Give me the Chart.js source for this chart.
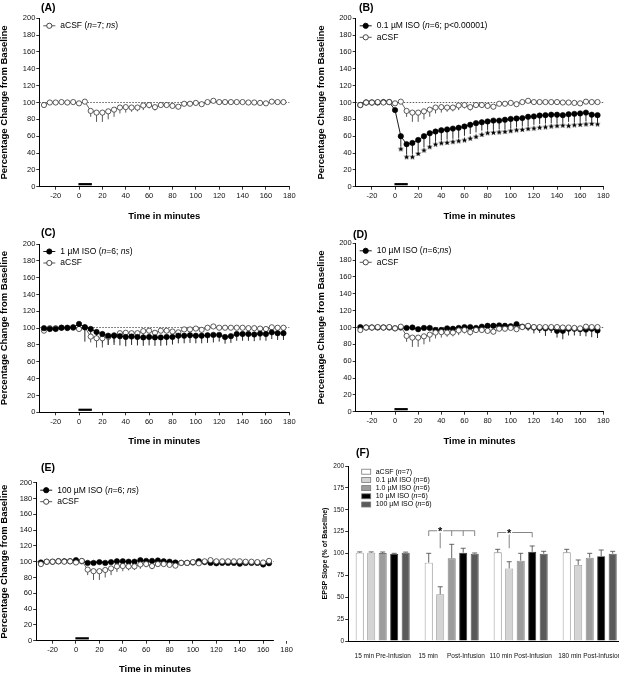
<!DOCTYPE html>
<html>
<head>
<meta charset="utf-8">
<script src="https://cdn.jsdelivr.net/npm/chart.js@4.4.1/dist/chart.umd.min.js"></script>
<style>
  html, body { margin: 0; padding: 0; background: #fff; overflow: hidden; width: 619px; height: 673px; }
  canvas { position: absolute; }
</style>
</head>
<body>
<canvas id="cA" width="310" height="225" style="left:0;top:0"></canvas>
<canvas id="cB" width="309" height="225" style="left:310px;top:0"></canvas>
<canvas id="cC" width="310" height="225" style="left:0;top:225px"></canvas>
<canvas id="cD" width="309" height="225" style="left:310px;top:225px"></canvas>
<canvas id="cE" width="310" height="236" style="left:0;top:440px"></canvas>
<canvas id="cF" width="320" height="233" style="left:310px;top:440px"></canvas>
<script>
// sampling times (min) for panels A-D; panel E stops at 165
const times = [-30,-25,-20,-15,-10,-5,0,5,10,15,20,25,30,35,40,45,50,55,60,65,70,75,80,85,90,95,100,105,110,115,120,125,130,135,140,145,150,155,160,165,170,175];
const xTicks = [-20,0,20,40,60,80,100,120,140,160,180];
const yTicks = [0,20,40,60,80,100,120,140,160,180,200];

// aCSF control, mean and SEM
const acsf = [97,100,100,100.5,100,100.5,99,101,90,88,88,89.5,91.5,94,94.5,94,94,96.5,97,94.5,97,97,96,95,98.5,98.5,99.5,98,100.5,102,100.5,100.5,100.5,100.5,100.5,100,100,99.5,99,101,100.5,100.5];
const acsfErr = [1.5,1,1,1,1,1,1.5,2,7,11,11,9.5,8.5,7,6.5,5,4.5,5.5,4,4,3,3,3,3,2,2,2,2,2,2,1.5,1.5,1.5,1.5,1.5,1.5,1.5,1.5,1.5,1.5,1.5,1.5];

// 0.1 uM ISO
const iso01 = [97,100,100,100,100.5,100.5,91,60,50.5,52,55.5,60,63.5,65.5,67,68,69,70,71.5,73.5,75.5,76.5,77.5,78.5,78.5,79.5,80.5,81,81.5,83,83.5,84.5,85,85.5,85.5,85,86,86.5,87,88,85.5,85];
const iso01Err = [1,1,1,1,1,1,2,12,12,13,13,13,13,12,12,12,12,12,11,11,11,10,10,11,10,11,11,10,10,11,10,10,10,10,10,9,9,10,10,10,8,8];
const iso01Stars = [null,null,null,null,null,null,null,45,35.5,35.5,39.5,43.5,47.5,50.5,52,52.5,53.5,54.5,55.5,57.5,59.5,62,64,64.5,65,65.5,66.5,67.5,68,69,69.5,70.5,71,72,72.5,73,72.5,73.5,74,74.5,75,74.5];

// 1 uM ISO
const iso1 = [100,99,99,100.5,100.5,101,105,101,99,95.5,93,91,91,90.5,89.5,90,89.5,89,89.5,89,89,89.5,89.5,91,91,91.5,91,91,91.5,92,92,89.5,90.5,93,93,93,92.5,93.5,93,95,94,94];
const iso1Err = [1,1,1,1,1,1,2,17,10,11,11,11,11,11,11,10,10,10,10,10,10,10,9,9,9,9,9,9,9,9,8,8,8,8,8,8,8,8,8,8,8,8];

// 10 uM ISO
const iso10 = [100.5,100,100,100,100,100,99,100,99.5,100,98,99.5,99.5,97,97,99,98.5,99.5,100.5,100.5,99.5,101,102,102,102.5,102,101.5,104,101,101,100,99.5,99,99.5,96,96,98.5,98.5,98,97.5,98.5,96.5];
const iso10Err = [1,1,1,1,1,1,1.5,1.5,2,2,2,2,2,2,2,2,2,2,2,2,2,2,2,2,2,2,2,2,4,5,7,6,9,6,8,10,8,8,8,8,10,9];

// 100 uM ISO (to 165 min)
const iso100 = [99,100,100,100.5,100.5,100.5,102,100.5,98.5,98.5,99.5,98.5,99.5,100.5,100.5,100,100,102,101,101,101.5,100.5,100,99,98.5,98.5,99,100.5,99.5,98.5,98,98.5,98.5,98.5,97.5,98.5,98.5,98.5,96.5,98];
const iso100Err = [1,1,1,1,1,1,1.5,1.5,1.5,1.5,1.5,1.5,1.5,1.5,1.5,1.5,1.5,1.5,1.5,1.5,1.5,1.5,1.5,1.5,1.5,1.5,1.5,1.5,1.5,1.5,1.5,1.5,1.5,1.5,1.5,1.5,1.5,1.5,2,1.5];

// panel F summary
const epochs = ['15 min Pre-Infusion', '15 min     Post-Infusion', '110 min Post-Infusion', '180 min Post-Infusion'];
const fTicks = [0,25,50,75,100,125,150,175,200];
const barAcsf = [101, 89.5, 101.3, 101.3];
const barAcsfErr = [0.8, 10.7, 3.5, 3.5];
const bar01 = [101, 53.3, 83, 87];
const bar01Err = [0.8, 8.7, 7.6, 5.6];
const bar1 = [100.5, 94.5, 91.8, 95.2];
const bar1Err = [1.2, 16, 8.4, 5];
const bar10 = [99.5, 101, 102, 97];
const bar10Err = [0.7, 5, 6.6, 7];
const bar100 = [101, 99.8, 99.8, 99.8];
const bar100Err = [0.6, 0.8, 2.7, 2.7];

const FONT = '"Liberation Sans", Arial, sans-serif';
const baseline = 101;
const infusion = [-0.5, 11];

function pts(xs, ys) { return ys.map((v, i) => ({ x: xs[i], y: v })); }

function drawParts(ctx, parts, x, y, size) {
  parts.forEach(p => {
    ctx.font = (p[1] ? 'italic ' : '') + size + 'px ' + FONT;
    ctx.fillText(p[0], x, y);
    x += ctx.measureText(p[0]).width;
  });
}

const star = document.createElement('canvas');
star.width = 7; star.height = 7;
(function () {
  const c = star.getContext('2d');
  c.beginPath();
  for (let k = 0; k < 10; k++) {
    const r = k % 2 ? 1.3 : 3.2, a = -Math.PI / 2 + k * Math.PI / 5;
    c.lineTo(3.5 + r * Math.cos(a), 3.7 + r * Math.sin(a));
  }
  c.closePath(); c.fillStyle = '#000'; c.fill();
})();

const deco = {
  id: 'deco',
  afterDraw(chart, args, o) {
    const ctx = chart.ctx, a = chart.chartArea;
    ctx.save();
    ctx.fillStyle = '#000';
    ctx.textBaseline = 'middle';
    ctx.textAlign = 'left';
    ctx.font = 'bold 10.5px ' + FONT;
    ctx.fillText(o.tag, o.tagX, o.tagY);
    o.keys.forEach((k, i) => {
      const y = a.top + o.keyTop + i * o.keyGap;
      const x = a.left + o.keyLeft;
      if (k.box) {
        ctx.fillStyle = k.box;
        ctx.fillRect(x, y - 2.5, 9, 5);
        ctx.strokeStyle = '#777'; ctx.lineWidth = 0.8;
        ctx.strokeRect(x, y - 2.5, 9, 5);
        ctx.fillStyle = '#000';
        drawParts(ctx, k.parts, x + 14, y, o.keySize);
      } else {
        ctx.strokeStyle = k.filled ? '#000' : '#444'; ctx.lineWidth = 0.9;
        ctx.beginPath(); ctx.moveTo(x, y); ctx.lineTo(x + 12, y); ctx.stroke();
        ctx.beginPath(); ctx.arc(x + 6, y, 2.6, 0, Math.PI * 2);
        ctx.fillStyle = k.filled ? '#000' : '#fff'; ctx.fill();
        ctx.strokeStyle = k.filled ? '#000' : '#333'; ctx.stroke();
        ctx.fillStyle = '#000';
        drawParts(ctx, k.parts, x + 17, y, o.keySize);
      }
    });
    ctx.restore();
  }
};

const refs = {
  id: 'refs',
  beforeDatasetsDraw(chart) {
    const { ctx, chartArea: a, scales: { x, y } } = chart;
    ctx.save();
    ctx.strokeStyle = '#333'; ctx.lineWidth = 0.8; ctx.setLineDash([1.5, 1.5]);
    const yb = Math.round(y.getPixelForValue(baseline)) + 0.5;
    ctx.beginPath(); ctx.moveTo(a.left, yb); ctx.lineTo(a.right, yb); ctx.stroke();
    ctx.setLineDash([]);
    ctx.strokeStyle = '#000'; ctx.lineWidth = 2.2;
    const yi = y.getPixelForValue(3);
    ctx.beginPath(); ctx.moveTo(x.getPixelForValue(infusion[0]), yi); ctx.lineTo(x.getPixelForValue(infusion[1]), yi); ctx.stroke();
    chart.data.datasets.forEach((ds, di) => {
      if (!ds.err) return;
      const meta = chart.getDatasetMeta(di);
      ctx.strokeStyle = ds.errColor; ctx.lineWidth = 0.9;
      meta.data.forEach((pt, i) => {
        const y2 = y.getPixelForValue(ds.data[i].y - ds.err[i]);
        ctx.beginPath(); ctx.moveTo(pt.x, pt.y); ctx.lineTo(pt.x, y2); ctx.stroke();
      });
    });
    ctx.restore();
  }
};

function isoSet(label, vals, err) {
  return { label, data: pts(times, vals), err, errColor: '#111', borderColor: '#000', borderWidth: 0.9,
    pointRadius: 2.7, pointBackgroundColor: '#000', pointBorderColor: '#000', pointBorderWidth: 0.6 };
}
function acsfSet(n, order) {
  return { label: 'aCSF', data: pts(times, acsf.slice(0, n)), err: acsfErr.slice(0, n), errColor: '#444',
    borderColor: '#555', borderWidth: 0.9, pointRadius: 2.6, pointBackgroundColor: '#fff',
    pointBorderColor: '#333', pointBorderWidth: 0.8, order: order || 0 };
}

function lineChart(id, p) {
  return new Chart(document.getElementById(id), {
    type: 'line',
    data: { datasets: p.datasets },
    options: {
      responsive: false, animation: false,
      layout: { padding: { left: p.padL, top: p.top, right: p.padR, bottom: 0 } },
      plugins: {
        legend: { display: false }, tooltip: { enabled: false },
        deco: { tag: p.tag, tagX: p.tagX, tagY: p.tagY, keys: p.keys, keyTop: 7.5, keyGap: 11.5, keyLeft: 4, keySize: 8.5 }
      },
      scales: {
        x: {
          type: 'linear', min: -34, max: p.xmax,
          afterBuildTicks: s => { s.ticks = p.xt.map(v => ({ value: v })); },
          afterFit: s => { s.height = p.xh; },
          grid: { drawOnChartArea: false, tickLength: 3, color: '#000', lineWidth: 0.8 },
          border: { color: '#000', width: 1 },
          ticks: { font: { family: FONT, size: 7.5 }, color: '#111', padding: 2, maxRotation: 0, autoSkip: false },
          title: { display: true, text: 'Time in minutes', color: '#000', font: { family: FONT, size: 9.5, weight: 'bold', lineHeight: 1.2 }, padding: { top: 0, bottom: p.tpad } }
        },
        y: {
          min: 0, max: 200,
          afterBuildTicks: s => { s.ticks = yTicks.map(v => ({ value: v })); },
          afterFit: s => { s.width = p.yw; },
          grid: { drawOnChartArea: false, tickLength: 3, color: '#000', lineWidth: 0.8 },
          border: { color: '#000', width: 1 },
          ticks: { font: { family: FONT, size: 7.5 }, color: '#111', padding: 1 },
          title: { display: true, text: 'Percentage Change from Baseline', color: '#000', font: { family: FONT, size: 9.5, weight: 'bold', lineHeight: 1 }, padding: 0 }
        }
      }
    },
    plugins: [refs, deco]
  });
}

const acsfKey = { filled: false, parts: [['aCSF', 0]] };

lineChart('cA', {
  datasets: [acsfSet(42)], tag: '(A)', tagX: 41, tagY: 8,
  keys: [{ filled: false, parts: [['aCSF (', 0], ['n', 1], ['=7; ', 0], ['ns', 1], [')', 0]] }],
  padL: 0, yw: 39.3, padR: 20.7, top: 18.3, xh: 38.3, xmax: 180, xt: xTicks, tpad: 3.3
});

const starSet = { label: 'p', data: pts(times, iso01Stars), showLine: false, pointStyle: star, pointRadius: 3 };
lineChart('cB', {
  datasets: [isoSet('0.1', iso01, iso01Err), acsfSet(42, -1), starSet], tag: '(B)', tagX: 49, tagY: 8,
  keys: [{ filled: true, parts: [['0.1 µM ISO (', 0], ['n', 1], ['=6; p<0.00001)', 0]] }, acsfKey],
  padL: 7, yw: 38.7, padR: 15.7, top: 18.3, xh: 38.3, xmax: 180, xt: xTicks, tpad: 3
});

lineChart('cC', {
  datasets: [isoSet('1', iso1, iso1Err), acsfSet(42)], tag: '(C)', tagX: 41, tagY: 8.5,
  keys: [{ filled: true, parts: [['1 µM ISO (', 0], ['n', 1], ['=6; ', 0], ['ns', 1], [')', 0]] }, acsfKey],
  padL: 0, yw: 39.3, padR: 20.7, top: 19, xh: 37.7, xmax: 180, xt: xTicks, tpad: 3.3
});

lineChart('cD', {
  datasets: [isoSet('10', iso10, iso10Err), acsfSet(42, -1)], tag: '(D)', tagX: 43, tagY: 10,
  keys: [{ filled: true, parts: [['10 µM ISO (', 0], ['n', 1], ['=6;', 0], ['ns', 1], [')', 0]] }, acsfKey],
  padL: 7, yw: 38.7, padR: 15.7, top: 18.3, xh: 38.3, xmax: 180, xt: xTicks, tpad: 3.3
});

lineChart('cE', {
  datasets: [isoSet('100', iso100, iso100Err), acsfSet(40, -1)], tag: '(E)', tagX: 41, tagY: 28.5,
  keys: [{ filled: true, parts: [['100 µM ISO (', 0], ['n', 1], ['=6; ', 0], ['ns', 1], [')', 0]] }, acsfKey],
  padL: 0, yw: 36.2, padR: 36.3, top: 42.7, xh: 35.3, xmax: 169, xt: xTicks, tpad: 1
});

// ---- panel F ----
const sigMarks = [
  { g: 1, span: [0, 4], level: 126, foot: 120, drops: [0, 2, 3, 4], star: 1, starFoot: 106 },
  { g: 2, span: [0, 3], level: 124, foot: 118.5, drops: [0, 3], star: 1, starFoot: 106 }
];

const barDeco = {
  id: 'barDeco',
  afterDatasetsDraw(chart) {
    const { ctx, scales: { y } } = chart;
    ctx.save();
    chart.data.datasets.forEach((ds, di) => {
      const meta = chart.getDatasetMeta(di);
      ctx.strokeStyle = '#555'; ctx.lineWidth = 0.9;
      meta.data.forEach((bar, i) => {
        const top = y.getPixelForValue(ds.data[i] + ds.err[i]);
        ctx.beginPath();
        ctx.moveTo(bar.x, bar.y); ctx.lineTo(bar.x, top);
        ctx.moveTo(bar.x - 2.5, top); ctx.lineTo(bar.x + 2.5, top);
        ctx.stroke();
      });
    });
    const bx = (d, g) => chart.getDatasetMeta(d).data[g].x;
    sigMarks.forEach(m => {
      const yl = y.getPixelForValue(m.level), yf = y.getPixelForValue(m.foot);
      ctx.strokeStyle = '#777'; ctx.lineWidth = 0.9;
      ctx.beginPath();
      ctx.moveTo(bx(m.span[0], m.g), yl); ctx.lineTo(bx(m.span[1], m.g), yl);
      m.drops.forEach(d => { ctx.moveTo(bx(d, m.g), yl); ctx.lineTo(bx(d, m.g), yf); });
      ctx.moveTo(bx(m.star, m.g), yl); ctx.lineTo(bx(m.star, m.g), y.getPixelForValue(m.starFoot));
      ctx.stroke();
      const sx = bx(m.star, m.g);
      ctx.fillStyle = '#fff'; ctx.fillRect(sx - 3, yl - 4, 6, 6);
      ctx.fillStyle = '#000'; ctx.font = 'bold 11px ' + FONT;
      ctx.textAlign = 'center'; ctx.textBaseline = 'middle';
      ctx.fillText('*', sx, yl + 1);
    });
    ctx.restore();
  }
};

function barSet(label, vals, err, fill, edge) {
  return { label, data: vals, err, backgroundColor: fill, borderColor: edge, borderWidth: 0.9,
    categoryPercentage: 0.833, barPercentage: 0.7 };
}

new Chart(document.getElementById('cF'), {
  type: 'bar',
  data: {
    labels: epochs,
    datasets: [
      barSet('aCSF', barAcsf, barAcsfErr, '#ffffff', '#888'),
      barSet('0.1', bar01, bar01Err, '#d4d4d4', '#999'),
      barSet('1.0', bar1, bar1Err, '#9c9c9c', '#777'),
      barSet('10', bar10, bar10Err, '#000000', '#333'),
      barSet('100', bar100, bar100Err, '#5a5a5a', '#444')
    ]
  },
  options: {
    responsive: false, animation: false,
    layout: { padding: { left: 11.5, top: 26, right: 5.8, bottom: 0 } },
    plugins: {
      legend: { display: false }, tooltip: { enabled: false },
      deco: {
        tag: '(F)', tagX: 46, tagY: 13.5, keyTop: 5.7, keyGap: 8.2, keyLeft: 13.5, keySize: 7,
        keys: [
          { box: '#ffffff', parts: [['aCSF (', 0], ['n', 1], ['=7)', 0]] },
          { box: '#d4d4d4', parts: [['0.1 µM ISO (', 0], ['n', 1], ['=6)', 0]] },
          { box: '#9c9c9c', parts: [['1.0 µM ISO (', 0], ['n', 1], ['=6)', 0]] },
          { box: '#000000', parts: [['10 µM ISO (', 0], ['n', 1], ['=6)', 0]] },
          { box: '#5a5a5a', parts: [['100 µM ISO (', 0], ['n', 1], ['=6)', 0]] }
        ]
      }
    },
    scales: {
      x: {
        afterFit: s => { s.height = 32; },
        grid: { display: false },
        border: { color: '#000', width: 1 },
        ticks: { font: { family: FONT, size: 6.5 }, color: '#111', padding: 3, maxRotation: 0, autoSkip: false }
      },
      y: {
        min: 0, max: 200,
        afterBuildTicks: s => { s.ticks = fTicks.map(v => ({ value: v })); },
        afterFit: s => { s.width = 26.7; },
        grid: { drawOnChartArea: false, tickLength: 3, color: '#000', lineWidth: 0.8 },
        border: { color: '#000', width: 1 },
        ticks: { font: { family: FONT, size: 6.5 }, color: '#111', padding: 1 },
        title: { display: true, text: 'EPSP Slope (% of Baseline)', color: '#000', font: { family: FONT, size: 7, weight: 'bold', lineHeight: 1 }, padding: 0 }
      }
    }
  },
  plugins: [barDeco, deco]
});
</script>
</body>
</html>
